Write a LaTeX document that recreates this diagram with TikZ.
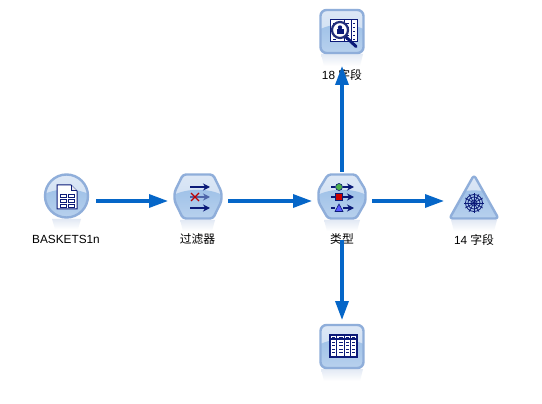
\documentclass[tikz,border=0pt]{standalone}
\usepackage{fontspec}
\setmainfont{Liberation Sans}
\newfontfamily\cjkfont{Noto Sans CJK SC}
\usetikzlibrary{arrows.meta}
\definecolor{edgeblue}{HTML}{0566C8}
\definecolor{rimblue}{HTML}{8FAEDA}
\definecolor{paleblue}{HTML}{DDE8F6}
\definecolor{midblue}{HTML}{A0C2E8}
\definecolor{lowblue}{HTML}{CBDDF2}
\definecolor{gloss}{HTML}{C8DAF0}
\definecolor{reflect}{HTML}{E2E9F4}
\definecolor{navy}{HTML}{0B1A78}
\tikzset{
  hit/.style={inner sep=0pt,outer sep=0pt,draw=none,fill=none,rectangle},
  flow/.style={draw=edgeblue,line width=3.3pt,-{Triangle[length=19pt,width=13pt,fill=edgeblue]}},
  rim/.style={draw=rimblue,line width=2.4pt,line join=round},
  lab/.style={inner sep=0pt,font=\fontsize{11.8}{13}\selectfont,text=black},
  thin gly/.style={draw=navy,line width=1pt},
}
% #1 = closed path, #2..#5 = its box
\newcommand{\glossicon}[5]{%
  \begin{scope}
    \clip #1;
    \shade[top color=paleblue,bottom color=gloss] (#2,#3) rectangle (#4,#5);
    \shade[top color=midblue,bottom color=lowblue] ({(#2+#4)/2},{#3+(#5-#3)*0.93}) ellipse ({(#4-#2)*0.85} and {(#5-#3)*0.58});
  \end{scope}
  \draw[rim] #1;
}
\newcommand{\refl}[4]{% x1 y1 x2 y2
  \shade[top color=reflect,bottom color=white] (#1,#2) -- (#3,#2) -- ({#3-3},#4) -- ({#1+3},#4) -- cycle;
}
\begin{document}
\begin{tikzpicture}[x=1pt,y=-1pt]
\useasboundingbox (0,0) rectangle (542,404);
\fill[white] (0,0) rectangle (542,404);

% connection areas of the icons (invisible)
\node[hit,minimum width=60pt,minimum height=60pt] (src) at (66,201) {};
\node[hit,minimum width=60pt,minimum height=60pt] (filt) at (198,201) {};
\node[hit,minimum width=60pt,minimum height=58pt] (typ) at (342,201) {};
\node[hit,minimum width=60pt,minimum height=60pt] (graph) at (474,201) {};
\node[hit,minimum width=60pt,minimum height=70pt] (audit) at (342,31) {};
\node[hit,minimum width=60pt,minimum height=52pt] (tbl) at (342,346) {};
\coordinate (typlow) at (342,240);

% reflections
\refl{52}{219}{81}{229}
\refl{180}{220}{215}{231}
\refl{324}{220}{360}{231}
\refl{451}{220}{497}{231}
\refl{321}{54}{363}{66}
\refl{321}{369}{363}{381}

% labels
\node[lab] (l1) at (66,239.5) {BASKETS1n};
\node[lab] (l2) at (197.5,239.5) {\cjkfont 过滤器};
\node[lab] (l3) at (342,239.5) {\cjkfont 类型};
\node[lab] (l4) at (474,239.5) {14 {\cjkfont 字段}};
\node[lab] (l5) at (342,74.5) {18 {\cjkfont 字段}};

% source icon
\glossicon{(66.5,196) circle (21.5)}{44}{174}{89}{218}
\draw[thin gly,fill=white] (57,185) -- (71,185) -- (77,191) -- (77,209) -- (57,209) -- cycle;
\draw[thin gly,fill=white!90!navy] (71,185) -- (71,191) -- (77,191);
\foreach \yy in {194,199,204}{
  \draw[navy,line width=.9pt] (60,\yy) rectangle (66,{\yy+3});
  \draw[navy,line width=.9pt] (68,\yy) rectangle (74,{\yy+3});
}

% filter icon
\glossicon{[rounded corners=3pt] (183,174.5) -- (213,174.5) -- (221.5,192) -- (221.5,201) -- (213,218.5) -- (183,218.5) -- (174.5,201) -- (174.5,192) -- cycle}{174}{174}{222}{219}
\draw[navy,line width=1.2pt,-{Stealth[length=7pt,width=7pt]}] (190,187) -- (210,187);
\draw[navy,line width=1.2pt,-{Stealth[length=7pt,width=7pt]}] (190,208) -- (210,208);
\draw[draw=navy!55!midblue,line width=1.2pt,-{Stealth[length=7pt,width=7pt]}] (190,197) -- (210,197);
\draw[red!75!black,line width=1.2pt] (191,193) -- (199,201) (199,193) -- (191,201);

% type icon
\glossicon{[rounded corners=3pt] (328,174.5) -- (356,174.5) -- (365.5,190) -- (365.5,202) -- (356,218.5) -- (328,218.5) -- (318.5,202) -- (318.5,190) -- cycle}{318}{174}{366}{219}
\foreach \yy in {187,197,208}{
  \draw[navy,line width=1.2pt] (331,\yy) -- (335,\yy);
  \draw[navy,line width=1.2pt,-{Stealth[length=7pt,width=7pt]}] (343,\yy) -- (354,\yy);
}
\draw[navy,line width=.6pt,fill=green!55!black!70] (339,187) circle (3.5);
\draw[navy,line width=.6pt,fill=red!80!black] (335.5,193.5) rectangle (342.5,200.5);
\draw[navy,line width=.6pt,fill=blue!65] (339,204) -- (343,211.5) -- (335,211.5) -- cycle;

% graph (web) icon
\glossicon{[rounded corners=3pt] (474,175) -- (498.5,218.5) -- (449.5,218.5) -- cycle}{449}{175}{499}{219}
\foreach \aa in {0,30,...,330}{
  \draw[navy,line width=.7pt] (474,203) -- ++(\aa:10);
}
\foreach \rr in {3,6,8.5}{
  \draw[navy,line width=.8pt] (474,203) circle (\rr);
}

% audit icon
\glossicon{[rounded corners=6pt] (320.5,10) rectangle (363.5,53)}{320}{9}{364}{53}
\draw[thin gly,fill=white] (330,20) rectangle (357,42);
\foreach \xx in {344,351}{ \draw[navy,line width=1pt] (\xx,20) -- (\xx,42); }
\foreach \yy in {24,28,32,36,40}{
  \draw[navy,line width=1pt] (333,\yy) -- (336,\yy) (346,\yy) -- (349,\yy) (353,\yy) -- (355,\yy);
}
\draw[navy,line width=3pt,line cap=round] (346,37) -- (356,46.5);
\draw[navy!80!gray,line width=2.2pt,fill=white] (340,30) circle (8);
\fill[navy] (336.5,29) rectangle (343.5,34);
\fill[navy] (340,27.5) circle (2.2);

% table icon
\glossicon{[rounded corners=6pt] (320.5,325) rectangle (363.5,368)}{320}{324}{364}{368}
\draw[draw=navy,line width=1.1pt,fill=white] (330,335) rectangle (357,357);
\draw[navy,line width=1.1pt] (330,339) -- (357,339);
\foreach \xx in {336.7,344.3,350.7}{ \draw[navy,line width=1.1pt] (\xx,335) -- (\xx,357); }
\foreach \yy in {337,342,345.5,349,352.5}{
  \draw[navy,line width=1pt] (332,\yy) -- (335,\yy) (339,\yy) -- (342.5,\yy) (346,\yy) -- (349,\yy) (352,\yy) -- (355,\yy);
}

% connectors
\draw[flow] (src.east) -- (filt.west);
\draw[flow] (filt.east) -- (typ.west);
\draw[flow] (typ.east) -- (graph.west);
\draw[flow] (typ.north) -- (audit.south);
\draw[flow] (typlow) -- (tbl.north);
\end{tikzpicture}
\end{document}
